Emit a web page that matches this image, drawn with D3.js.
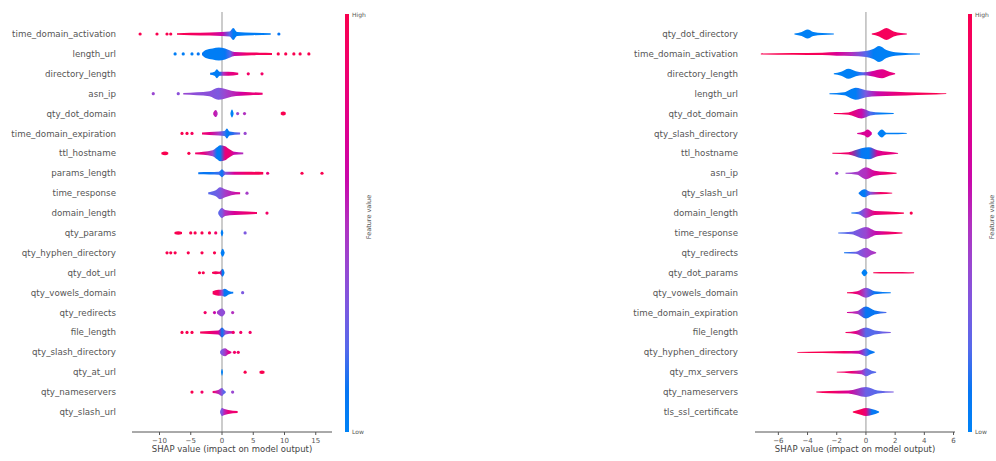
<!DOCTYPE html>
<html><head><meta charset="utf-8">
<script src="https://cdn.jsdelivr.net/npm/d3@7"></script>
<style>body{margin:0;background:#fff}svg{display:block}text{font-family:"DejaVu Sans",sans-serif}</style>
</head><body>
<svg id="chart" width="996" height="461"></svg>
<script>
// ---- Model A: SHAP summary (dot) plot ----
const leftFeatures = ["time_domain_activation","length_url","directory_length","asn_ip","qty_dot_domain",
  "time_domain_expiration","ttl_hostname","params_length","time_response","domain_length","qty_params",
  "qty_hyphen_directory","qty_dot_url","qty_vowels_domain","qty_redirects","file_length",
  "qty_slash_directory","qty_at_url","qty_nameservers","qty_slash_url"];
// dense parts: [shap value, point density, mean feature value]; null splits separate clusters
const leftBodies = [
  [[-7.2,0.8,1],[-5,1.2,0.95],[-2,1.5,0.85],[0,2,0.6],[1.2,2.5,0.2],[1.8,6,0.05],[2.4,2,0.05],[5,1.2,0.05],[7.8,0.8,0.05]],
  [[-3.2,1,0.1],[-2.6,4,0.05],[-1.5,5.5,0.05],[-0.5,6.5,0.05],[0.5,5.5,0.1],[1.3,3.5,0.2],[2,2,0.6],[4,1.5,0.9],[6,1.2,0.95],[8,1,1]],
  [[-1.9,1,0.1],[-1.2,2,0.05],[-0.8,4.5,0.05],[-0.4,2,0.1],[0.2,2,0.5],[1,2,0.75],[2.6,1,0.85]],
  [[-6.2,0.8,0.4],[-4,1.5,0.35],[-2,2.5,0.35],[-0.6,6,0.3],[0.4,5,0.4],[1.5,3,0.5],[3,2,0.65],[4.5,1.5,0.8],[6.5,1,0.85]],
  [[-1.4,0.8,0.6],[-1,3.5,0.55],[-0.7,0.8,0.5],null,[1.35,0.6,0],[1.6,4,0],[1.85,0.6,0],null,[9.4,1,1],[9.8,2,1],[10.2,1,1]],
  [[-3.2,1,0.9],[-2,1.5,0.75],[-0.5,2,0.45],[0.4,2.5,0.15],[0.8,5,0.05],[1.2,2,0.1],[2.9,1,0.3]],
  [[-9.7,0.8,1],[-9.1,1.8,1],[-8.6,0.8,1],null,[-4.3,0.8,0.9],[-3,1.5,0.8],[-1.5,3,0.4],[-0.8,6,0.05],[-0.3,8,0.05],[0.5,7,0.8],[1.2,4,0.85],[2,1.5,0.6],[3.4,0.8,0.5]],
  [[-3.8,1,0.1],[-2,1.2,0.1],[-0.5,1.5,0.15],[0,4,0.1],[0.5,1.5,0.3],[2,1.5,0.7],[4,1.5,0.9],[6.6,1.2,1]],
  [[-2.2,1,0.2],[-1,3,0.25],[-0.3,6,0.3],[0.5,4,0.45],[1.5,2,0.55],[2.9,1,0.7]],
  [[-0.6,1,0.2],[0,5,0.3],[0.5,3,0.5],[2,2,0.7],[4,1.5,0.85],[5.6,1,0.9]],
  [[-7.6,1,1],[-7,1.8,1],[-6.4,1,1],null,[-0.2,0.6,0.05],[0,3.5,0.05],[0.2,0.6,0.05]],
  [[-0.2,0.6,0.05],[0.1,4,0.05],[0.4,0.6,0.05]],
  [[-1.6,0.8,1],[-1,1.5,0.95],[-0.4,1,0.9],[0.1,4,0.05],[0.4,0.6,0.05]],
  [[-1.5,1.5,0.95],[-0.6,3,0.9],[0,3,0.4],[0.4,4,0.1],[1.2,1.5,0.05],[1.8,0.8,0.1]],
  [[-0.8,1,0.45],[0,4,0.35],[0.5,1,0.4]],
  [[-3.5,1,0.95],[-2,1.5,0.9],[-0.6,2,0.7],[0,5,0.1],[0.6,2,0.4],[1.7,1.2,0.6]],
  [[-0.3,1,0.3],[0,3,0.3],[0.5,4,0.45],[1,2,0.7],[1.5,0.6,0.8]],
  [[-0.15,0.6,0.02],[0,3.5,0.02],[0.15,0.6,0.02],null,[6,1,1],[6.4,1.8,1],[6.8,1,1]],
  [[-1.5,1,0.9],[-0.6,2,0.55],[0,4,0.3],[0.3,2,0.2],[0.6,0.6,0.2]],
  [[-0.3,1,0.3],[0,4,0.3],[0.4,3,0.55],[1,2,0.8],[2.5,1,0.9]]
];
// isolated points: [shap value, feature value]
const leftDots = [
  [[-13.1,1],[-10.4,1],[-8.8,1],[-8.2,1],[9.1,0.1]],
  [[-7.5,0.05],[-6.2,0.05],[-4.8,0.05],[-3.8,0.1],[9,1],[10.2,1],[11.5,1],[12.5,1],[13.9,1]],
  [[4.2,0.9],[6.4,0.9]],
  [[-11,0.4],[-7,0.35]],
  [[2.5,0.4],[3.6,0.5]],
  [[-6.4,1],[-5.6,1],[-4.8,0.95],[3.7,0.4]],
  [[-5.3,1]],
  [[7.3,0.8],[12.8,1],[16,1]],
  [[4,0.45]],
  [[7.2,0.9]],
  [[-5,1],[-4.3,1],[-3.2,1],[-2,1],[-1,0.9],[3.7,0.3]],
  [[-8.8,1],[-8.2,1],[-7.5,1],[-5.4,1],[-3.2,1],[-1.2,1]],
  [[-3.6,1],[-3,1]],
  [[3.3,0.3]],
  [[-2.7,0.9],[-1.2,0.6],[1.7,0.5]],
  [[-6.4,1],[-5.6,1],[-4.8,1],[1.8,0.9],[3,0.9],[4.5,0.9]],
  [[2,0.9],[2.6,0.9]],
  [[3.7,1]],
  [[-4.8,1],[-3.2,0.9],[1.7,0.4]],
  []
];
const leftTicks = [-10,-5,0,5,10,15];

// ---- Model B: SHAP layered violin plot ----
const rightFeatures = ["qty_dot_directory","time_domain_activation","directory_length","length_url",
  "qty_dot_domain","qty_slash_directory","ttl_hostname","asn_ip","qty_slash_url","domain_length",
  "time_response","qty_redirects","qty_dot_params","qty_vowels_domain","time_domain_expiration",
  "file_length","qty_hyphen_directory","qty_mx_servers","qty_nameservers","tls_ssl_certificate"];
const rightBodies = [
  [[-4.9,0.4,0.02],[-4.4,2,0.02],[-4,4.5,0.02],[-3.6,2,0.02],[-3,1,0.02],[-2.2,0.5,0.05],null,
   [0.4,0.5,0.95],[0.9,2.5,0.95],[1.4,6,0.95],[1.9,2.5,0.95],[2.4,1,0.9],[2.8,0.4,0.9]],
  [[-7.2,0.5,1],[-5,0.8,1],[-3,1.2,0.95],[-2,1.8,0.7],[-1,2,0.5],[0,3,0.2],[0.5,5,0.05],[0.9,8,0.02],[1.4,4,0.02],[2.2,1.5,0.05],[3.7,0.5,0.05]],
  [[-2.2,0.5,0.02],[-1.7,2,0.02],[-1.2,5,0.02],[-0.7,2.5,0.05],[-0.2,1.5,0.2],[0.4,2.5,0.65],[1.1,4.5,0.75],[1.6,2,0.8],[2,0.5,0.8]],
  [[-2.5,0.5,0.05],[-1.5,1.5,0.05],[-0.7,6,0.05],[0,3.5,0.3],[0.8,2.5,0.6],[2,2,0.8],[3.5,1.2,0.95],[4.8,0.8,1],[5.5,0.4,1]],
  [[-2.2,0.5,1],[-1.2,1.2,0.9],[-0.3,5,0.6],[0.3,2,0.2],[1,1,0.05],[1.9,0.5,0.05]],
  [[-0.6,0.5,0.7],[-0.1,2,0.7],[0.1,4,0.7],[0.4,1,0.65],null,[0.8,0.5,0.02],[1.1,4,0.02],[1.4,0.8,0.02],[2.2,0.8,0.05],[2.8,0.4,0.05]],
  [[-2.3,0.5,1],[-1.2,1.2,0.85],[-0.3,5,0.1],[0.2,6,0.05],[0.8,3,0.7],[1.5,1.5,0.8],[2.2,0.4,0.8]],
  [[-1.4,0.5,0.4],[-0.6,1.5,0.45],[0,6,0.5],[0.6,2.5,0.7],[1.3,1.5,0.85],[2.1,0.5,0.95]],
  [[-0.5,0.5,0.1],[-0.1,4,0.05],[0.3,1.5,0.3],[1,1.2,0.9],[1.8,0.4,0.95]],
  [[-1,0.5,0.05],[-0.5,1.2,0.2],[0,5,0.45],[0.6,2,0.8],[1.5,1.5,0.9],[2.6,0.6,1]],
  [[-1.9,0.5,0.15],[-1,1.2,0.25],[0,6,0.4],[0.7,2,0.6],[1.5,1.5,0.85],[2.5,0.5,0.95]],
  [[-1.5,0.5,0.1],[-0.7,1,0.25],[0,5,0.4],[0.4,2,0.45],[0.7,0.5,0.5]],
  [[-0.3,0.5,0.02],[-0.1,3.5,0.02],[0.1,0.5,0.02],null,[0.5,0.5,1],[1.5,0.8,0.95],[2.5,0.8,0.95],[3.3,0.4,0.95]],
  [[-1.3,0.5,1],[-0.6,1.5,0.8],[0,5,0.35],[0.6,1.5,0.1],[1.7,0.5,0.05]],
  [[-1.3,0.5,0.7],[-0.6,1.5,0.5],[0,6,0.1],[0.6,2,0.1],[1.4,0.5,0.2]],
  [[-1.4,0.5,0.95],[-0.7,1.5,0.75],[0,5,0.2],[0.6,2,0.2],[1.7,0.5,0.3]],
  [[-4.7,0.4,1],[-3,0.8,1],[-1.5,1.2,0.9],[-0.5,1.5,0.6],[0,4,0.2],[0.3,2,0.1],[0.6,0.5,0.1]],
  [[-2,0.4,0.95],[-1,1.2,0.85],[-0.3,2,0.5],[0,4,0.25],[0.4,1.5,0.2],[0.7,0.5,0.2]],
  [[-3.4,0.5,0.95],[-2.5,1.2,0.95],[-1.2,1.5,0.7],[0,5,0.25],[0.8,1.5,0.2],[1.9,0.5,0.3]],
  [[-0.9,0.5,1],[-0.3,3,0.95],[0,4,0.8],[0.4,3,0.1],[0.9,0.5,0.05]]
];
const rightDots = [[],[],[],[],[],[],[],[[-2,0.4]],[],[[3.1,1]],[],[],[],[],[],[],[],[],[],[]];
const rightTicks = [-6,-4,-2,0,2,4,6];

const colorbarLabels = ["High","Low"];
const axisTitle = "SHAP value (impact on model output)";
const colorbarTitle = "Feature value";

// ---- drawing ----
const svg = d3.select("#chart");
const defs = svg.append("defs");
// red-blue map built in LCH space: blue (low) -> violet -> pink-red (high)
const featColor = t => d3.hcl(267 + t * 113, 70 + 20 * t, 52 - 6 * Math.sin(Math.PI * t)).formatHex();
let gradId = 0;

function drawPanel(p) {
  const g = svg.append("g");
  const x = d3.scaleLinear().domain(p.domain).range(p.range);
  const y = d3.scalePoint().domain(p.features).range([34, 412]);
  const dens = d3.scaleLinear().domain([0, 8]).range([0, p.maxHalf]);
  const axisY = 432;

  // zero reference line
  g.append("line").attr("x1", x(0)).attr("x2", x(0)).attr("y1", 12).attr("y2", axisY)
    .attr("stroke", "#999").attr("stroke-width", 1);

  // feature labels
  g.selectAll("text.feat").data(p.features).join("text")
    .attr("class", "feat").attr("x", p.labelX).attr("y", d => y(d)).attr("dy", "0.35em")
    .attr("text-anchor", "end").attr("font-size", 8.7).attr("fill", "#555").text(d => d);

  const area = d3.area().defined(d => d)
    .x(d => x(d[0])).y0(d => -dens(d[1])).y1(d => dens(d[1]))
    .curve(d3.curveMonotoneX);

  p.features.forEach((f, i) => {
    const row = g.append("g").attr("transform", `translate(0,${y(f)})`);
    const knots = p.bodies[i].filter(d => d);
    if (knots.length) {
      const x0 = x(d3.min(knots, d => d[0])), x1 = x(d3.max(knots, d => d[0]));
      const id = "grad" + (gradId++);
      const lg = defs.append("linearGradient").attr("id", id)
        .attr("gradientUnits", "userSpaceOnUse").attr("x1", x0).attr("x2", x1).attr("y1", 0).attr("y2", 0);
      knots.forEach(k => lg.append("stop")
        .attr("offset", x1 > x0 ? (x(k[0]) - x0) / (x1 - x0) : 0)
        .attr("stop-color", featColor(k[2])));
      row.append("path").attr("d", area(p.bodies[i])).attr("fill", `url(#${id})`);
    }
    row.selectAll("circle").data(p.dots[i]).join("circle")
      .attr("cx", d => x(d[0])).attr("cy", 0).attr("r", 1.6)
      .attr("fill", d => featColor(d[1]));
  });

  // x axis
  const ax = g.append("g").attr("transform", `translate(0,${axisY})`);
  ax.append("line").attr("x1", p.range[0]).attr("x2", p.range[1]).attr("stroke", "#555");
  const tk = ax.selectAll("g.t").data(p.ticks).join("g").attr("class", "t")
    .attr("transform", d => `translate(${x(d)},0)`);
  tk.append("line").attr("y2", 3).attr("stroke", "#555");
  tk.append("text").attr("y", 11).attr("text-anchor", "middle").attr("font-size", 7)
    .attr("fill", "#555").text(d => d3.format("d")(d));
  g.append("text").attr("x", (p.range[0] + p.range[1]) / 2).attr("y", 452)
    .attr("text-anchor", "middle").attr("font-size", 8.5).attr("fill", "#444").text(axisTitle);

  // colour bar
  const cid = "cbar" + (gradId++);
  const cg = defs.append("linearGradient").attr("id", cid).attr("x1", 0).attr("x2", 0).attr("y1", 1).attr("y2", 0);
  d3.range(0, 1.0001, 0.1).forEach(t => cg.append("stop").attr("offset", t).attr("stop-color", featColor(t)));
  g.append("rect").attr("x", p.cbarX).attr("y", 14).attr("width", 4).attr("height", 418)
    .attr("fill", `url(#${cid})`);
  g.append("text").attr("x", p.cbarX + 7).attr("y", 17).attr("font-size", 6).attr("fill", "#555").text(colorbarLabels[0]);
  g.append("text").attr("x", p.cbarX + 7).attr("y", 434).attr("font-size", 6).attr("fill", "#555").text(colorbarLabels[1]);
  g.append("text").attr("transform", `translate(${p.cbarX + 26},${217}) rotate(-90)`)
    .attr("text-anchor", "middle").attr("font-size", 6.5).attr("fill", "#555").text(colorbarTitle);
}

drawPanel({features: leftFeatures, bodies: leftBodies, dots: leftDots, ticks: leftTicks,
  domain: [-14.4, 17.6], range: [132, 332], labelX: 116, cbarX: 345, maxHalf: 8});
drawPanel({features: rightFeatures, bodies: rightBodies, dots: rightDots, ticks: rightTicks,
  domain: [-7.6, 6.1], range: [755, 955], labelX: 738, cbarX: 968, maxHalf: 8});
</script>
</body></html>
